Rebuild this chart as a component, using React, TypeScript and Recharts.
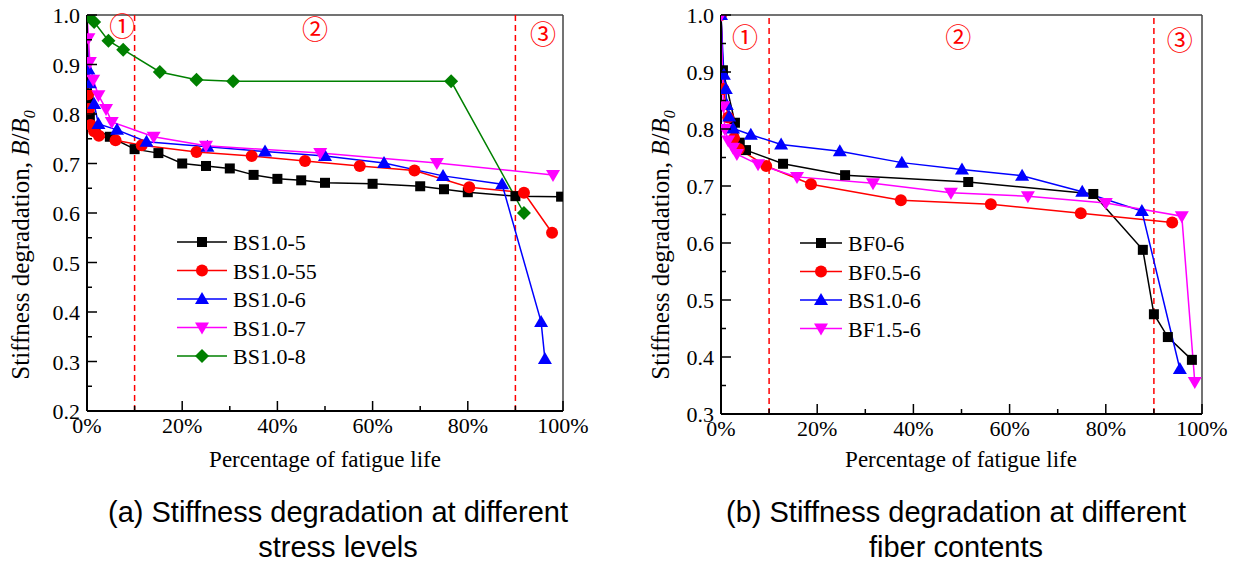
import React from 'react';
import { LineChart, Line, XAxis, YAxis, ReferenceLine, ReferenceDot, Legend } from 'recharts';

type Pt = { x: number; y: number };
const toPts = (a: number[][]): Pt[] => a.map(([x, y]) => ({ x, y }));

// ---- Left panel (a): stress levels ----
const bs10_5 = [[0, 1.0], [0.3, 0.83], [0.6, 0.795], [1.8, 0.77], [4.8, 0.754], [10, 0.729], [15, 0.721], [20, 0.7], [25, 0.695], [30, 0.69], [35, 0.677], [40, 0.669], [45, 0.666], [50, 0.661], [60, 0.659], [70, 0.654], [75, 0.648], [80, 0.642], [90, 0.634], [99.6, 0.633]];
const bs10_55 = [[0, 1.0], [0.2, 0.84], [0.4, 0.81], [0.8, 0.778], [1.5, 0.765], [2.5, 0.756], [6, 0.747], [11.5, 0.737], [23, 0.723], [34.6, 0.715], [45.8, 0.705], [57.3, 0.695], [68.8, 0.686], [80.3, 0.652], [91.8, 0.641], [97.7, 0.56]];
const bs10_6a = [[0, 1.0], [0.3, 0.89], [0.6, 0.862], [1.5, 0.82], [2.4, 0.78], [6.3, 0.768], [12.5, 0.744], [25.3, 0.734], [37.4, 0.724], [50, 0.715], [62.4, 0.701], [74.8, 0.675], [87.2, 0.658], [95.4, 0.38], [96.2, 0.305]];
const bs10_7 = [[0, 1.0], [0.3, 0.953], [0.6, 0.905], [1.3, 0.869], [2.4, 0.838], [4, 0.81], [5.2, 0.784], [14, 0.754], [25, 0.736], [49, 0.721], [73.5, 0.701], [97.9, 0.677]];
const bs10_8 = [[0.2, 1.0], [1.5, 0.986], [4.5, 0.948], [7.6, 0.93], [15.3, 0.885], [23, 0.869], [30.7, 0.866], [76.5, 0.866], [91.8, 0.6]];

// ---- Right panel (b): fiber contents ----
const bf0_6 = [[0, 1.0], [0.4, 0.903], [2.9, 0.811], [3.9, 0.776], [5.2, 0.763], [12.9, 0.739], [25.8, 0.719], [51.4, 0.707], [77.4, 0.686], [87.7, 0.588], [90, 0.475], [92.9, 0.435], [97.9, 0.395]];
const bf05_6 = [[0, 1.0], [0.5, 0.87], [1.5, 0.82], [2.7, 0.784], [3.7, 0.765], [9.4, 0.735], [18.7, 0.703], [37.4, 0.675], [56.1, 0.668], [74.8, 0.652], [93.8, 0.636]];
const bs10_6b = [[0, 1.0], [0.6, 0.895], [1, 0.87], [1.2, 0.842], [1.7, 0.822], [2.5, 0.801], [6.2, 0.79], [12.5, 0.773], [24.7, 0.761], [37.6, 0.741], [50.1, 0.729], [62.6, 0.718], [75.1, 0.69], [87.5, 0.656], [95.4, 0.379]];
const bf15_6 = [[0, 1.0], [0.5, 0.84], [0.8, 0.8], [1.5, 0.78], [2.5, 0.767], [3.3, 0.756], [7.7, 0.738], [15.8, 0.716], [31.6, 0.705], [47.8, 0.688], [63.8, 0.682], [80, 0.67], [95.8, 0.647], [98.5, 0.356]];

// ---- ticks ----
const xTicks = [0, 10, 20, 30, 40, 50, 60, 70, 80, 90, 100];
const xMajor = [0, 20, 40, 60, 80, 100];
const yTicksLeft = [0.2, 0.25, 0.3, 0.35, 0.4, 0.45, 0.5, 0.55, 0.6, 0.65, 0.7, 0.75, 0.8, 0.85, 0.9, 0.95, 1.0];
const yTicksRight = [0.3, 0.35, 0.4, 0.45, 0.5, 0.55, 0.6, 0.65, 0.7, 0.75, 0.8, 0.85, 0.9, 0.95, 1.0];
const yMajor = [0.2, 0.3, 0.4, 0.5, 0.6, 0.7, 0.8, 0.9, 1.0];
const stageLines = [10, 90];
const stageLabels = ['①', '②', '③'];

const SERIF = '"Liberation Serif", "Times New Roman", serif';
const SANS = '"Liberation Sans", Arial, sans-serif';

type Shape = 'square' | 'circle' | 'up' | 'down' | 'diamond';

const marker = (shape: Shape, color: string, cx: number, cy: number, key?: string) => {
  switch (shape) {
    case 'square':
      return <rect key={key} x={cx - 5} y={cy - 5} width={10} height={10} fill={color} />;
    case 'circle':
      return <circle key={key} cx={cx} cy={cy} r={6} fill={color} />;
    case 'up':
      return <polygon key={key} points={`${cx},${cy - 7} ${cx - 7},${cy + 5} ${cx + 7},${cy + 5}`} fill={color} />;
    case 'down':
      return <polygon key={key} points={`${cx},${cy + 7} ${cx - 7},${cy - 5} ${cx + 7},${cy - 5}`} fill={color} />;
    default:
      return <polygon key={key} points={`${cx},${cy - 7} ${cx + 7},${cy} ${cx},${cy + 7} ${cx - 7},${cy}`} fill={color} />;
  }
};

const makeDot = (shape: Shape, color: string) => (props: any) => {
  const { cx, cy, index } = props;
  if (cx == null || cy == null) return <g key={`e${index}`} />;
  return marker(shape, color, cx, cy, `d${index}`);
};

const XTick = (props: any) => {
  const { x, y, payload } = props;
  const v = payload.value;
  const major = xMajor.includes(v);
  return (
    <g>
      <line x1={x} x2={x} y1={y} y2={y - (major ? 10 : 5)} stroke="#000" strokeWidth={1.5} />
      {major && (
        <text x={x} y={y + 22} textAnchor="middle" fontFamily={SERIF} fontSize={22} fill="#000">
          {`${v}%`}
        </text>
      )}
    </g>
  );
};

const YTick = (props: any) => {
  const { x, y, payload } = props;
  const v = payload.value;
  const major = yMajor.some((m) => Math.abs(m - v) < 1e-6);
  return (
    <g>
      <line x1={x} x2={x + (major ? 10 : 5)} y1={y} y2={y} stroke="#000" strokeWidth={1.5} />
      {major && (
        <text x={x - 7} y={y + 8} textAnchor="end" fontFamily={SERIF} fontSize={22} fill="#000">
          {v.toFixed(1)}
        </text>
      )}
    </g>
  );
};

type Series = { name: string; data: number[][]; color: string; shape: Shape };

const leftSeries: Series[] = [
  { name: 'BS1.0-5', data: bs10_5, color: '#000000', shape: 'square' },
  { name: 'BS1.0-55', data: bs10_55, color: '#ff0000', shape: 'circle' },
  { name: 'BS1.0-6', data: bs10_6a, color: '#0000ff', shape: 'up' },
  { name: 'BS1.0-7', data: bs10_7, color: '#ff00ff', shape: 'down' },
  { name: 'BS1.0-8', data: bs10_8, color: '#008000', shape: 'diamond' },
];
const rightSeries: Series[] = [
  { name: 'BF0-6', data: bf0_6, color: '#000000', shape: 'square' },
  { name: 'BF0.5-6', data: bf05_6, color: '#ff0000', shape: 'circle' },
  { name: 'BS1.0-6', data: bs10_6b, color: '#0000ff', shape: 'up' },
  { name: 'BF1.5-6', data: bf15_6, color: '#ff00ff', shape: 'down' },
];

const legendContent = (series: Series[], lineLen: number) => () => (
  <svg width={220} height={series.length * 28.5 + 4} style={{ overflow: 'visible' }}>
    {series.map((s, i) => {
      const cy = 14 + i * 28.5;
      return (
        <g key={s.name}>
          <line x1={0} x2={lineLen} y1={cy} y2={cy} stroke={s.color} strokeWidth={1.5} />
          {marker(s.shape, s.color, lineLen / 2, cy)}
          <text x={lineLen + 6} y={cy + 8} fontFamily={SERIF} fontSize={22} fill="#000">
            {s.name}
          </text>
        </g>
      );
    })}
  </svg>
);

type PanelProps = {
  series: Series[];
  yDomain: [number, number];
  yTicks: number[];
  width: number;
  height: number;
  margin: { top: number; right: number; bottom: number; left: number };
  legendPos: { left: number; top: number };
  legendLine: number;
  stagePos: { x: number; y: number }[];
};

const Panel = ({ series, yDomain, yTicks, width, height, margin, legendPos, legendLine, stagePos }: PanelProps) => (
  <LineChart width={width} height={height} margin={margin}>
    <ReferenceLine y={yDomain[1]} stroke="#444" strokeWidth={1.5} />
    <ReferenceLine x={100} stroke="#444" strokeWidth={1.5} />
    {stageLines.map((v) => (
      <ReferenceLine key={v} x={v} stroke="#ff0000" strokeWidth={1.5} strokeDasharray="6 4" />
    ))}
    {stagePos.map((p, i) => (
      <ReferenceDot
        key={i}
        x={p.x}
        y={p.y}
        r={0}
        fill="none"
        stroke="none"
        ifOverflow="visible"
        label={{ value: stageLabels[i], position: 'center', fill: '#ff0000', fontSize: 26, fontFamily: '"Noto Sans CJK SC", "DejaVu Sans", sans-serif' }}
      />
    ))}
    {series.map((s) => (
      <Line
        key={s.name}
        name={s.name}
        data={toPts(s.data)}
        dataKey="y"
        stroke={s.color}
        strokeWidth={1.5}
        dot={makeDot(s.shape, s.color)}
        activeDot={false}
        isAnimationActive={false}
        type="linear"
      />
    ))}
    <XAxis
      type="number"
      dataKey="x"
      domain={[0, 100]}
      ticks={xTicks}
      interval={0}
      height={1}
      tickSize={0}
      tickMargin={0}
      tick={<XTick />}
      axisLine={{ stroke: '#000', strokeWidth: 2 }}
      allowDataOverflow
    />
    <YAxis
      type="number"
      dataKey="y"
      domain={yDomain}
      ticks={yTicks}
      interval={0}
      width={1}
      tickSize={0}
      tickMargin={0}
      tick={<YTick />}
      axisLine={{ stroke: '#000', strokeWidth: 2 }}
      allowDataOverflow
    />
    <Legend
      layout="vertical"
      align="center"
      verticalAlign="middle"
      content={legendContent(series, legendLine)}
      wrapperStyle={{ position: 'absolute', left: legendPos.left, top: legendPos.top, width: 220 }}
    />
  </LineChart>
);

const abs = (s: React.CSSProperties): React.CSSProperties => ({ position: 'absolute', ...s });

const YLabel = ({ cx, cy }: { cx: number; cy: number }) => (
  <div
    style={abs({
      left: cx,
      top: cy,
      width: 400,
      textAlign: 'center',
      transform: 'translate(-50%, -50%) rotate(-90deg)',
      fontFamily: SERIF,
      fontSize: 25,
      whiteSpace: 'nowrap',
      lineHeight: '28px',
    })}
  >
    Stiffness degradation, <i>B</i>/<i>B</i>
    <sub style={{ fontSize: 16, fontStyle: 'italic' }}>0</sub>
  </div>
);

const Centered = ({ cx, cy, text, font, size }: { cx: number; cy: number; text: string; font: string; size: number }) => (
  <div
    style={abs({
      left: cx,
      top: cy,
      transform: 'translate(-50%, -50%)',
      fontFamily: font,
      fontSize: size,
      whiteSpace: 'nowrap',
      lineHeight: 1,
    })}
  >
    {text}
  </div>
);

export default function App() {
  return (
    <div style={abs({ left: 0, top: 0, width: 1237, height: 566, background: '#fff', overflow: 'hidden' })}>
      <div style={abs({ left: 0, top: 0 })}>
        <Panel
          series={leftSeries}
          yDomain={[0.2, 1.0]}
          yTicks={yTicksLeft}
          width={600}
          height={470}
          margin={{ top: 15, right: 37, bottom: 58, left: 86 }}
          legendPos={{ left: 177, top: 228 }}
          legendLine={50}
          stagePos={[{ x: 7.4, y: 0.976 }, { x: 47.9, y: 0.97 }, { x: 95.8, y: 0.96 }]}
        />
      </div>
      <div style={abs({ left: 630, top: 0 })}>
        <Panel
          series={rightSeries}
          yDomain={[0.3, 1.0]}
          yTicks={yTicksRight}
          width={607}
          height={470}
          margin={{ top: 15, right: 35, bottom: 55, left: 90 }}
          legendPos={{ left: 170, top: 229 }}
          legendLine={42}
          stagePos={[{ x: 5, y: 0.96 }, { x: 49.3, y: 0.96 }, { x: 95.4, y: 0.955 }]}
        />
      </div>
      <YLabel cx={25} cy={245} />
      <YLabel cx={665} cy={245} />
      <Centered cx={325} cy={459} text="Percentage of fatigue life" font={SERIF} size={23} />
      <Centered cx={961} cy={459} text="Percentage of fatigue life" font={SERIF} size={23} />
      <Centered cx={338} cy={512} text="(a) Stiffness degradation at different" font={SANS} size={29} />
      <Centered cx={338} cy={547} text="stress levels" font={SANS} size={29} />
      <Centered cx={956} cy={512} text="(b) Stiffness degradation at different" font={SANS} size={29} />
      <Centered cx={956} cy={547} text="fiber contents" font={SANS} size={29} />
    </div>
  );
}
